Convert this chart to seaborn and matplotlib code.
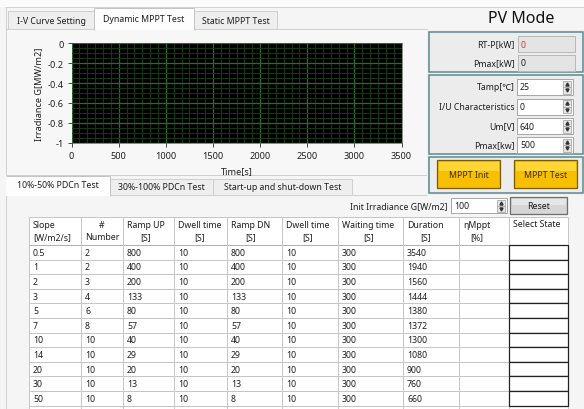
import matplotlib
matplotlib.use("Agg")
import matplotlib.pyplot as plt
from matplotlib.patches import Rectangle
from matplotlib.ticker import AutoMinorLocator
import pandas as pd
import seaborn as sns

# ---------------- data ----------------
time_s = []            # no irradiance curve drawn yet
irradiance = []
x_ticks = [0, 500, 1000, 1500, 2000, 2500, 3000, 3500]
y_ticks = [0, -0.2, -0.4, -0.6, -0.8, -1]
y_tick_labels = ["0", "-0.2", "-0.4", "-0.6", "-0.8", "-1"]

main_tabs = ["I-V Curve Setting", "Dynamic MPPT Test", "Static MPPT Test"]
sub_tabs = ["10%-50% PDCn Test", "30%-100% PDCn Test", "Start-up and shut-down Test"]
status_labels = ["RT-P[kW]", "Pmax[kW]"]
status_values = ["0", "0"]
param_labels = ["Tamp[℃]", "I/U Characteristics", "Um[V]", "Pmax[kw]"]
param_values = ["25", "0", "640", "500"]
buttons = ["MPPT Init", "MPPT Test"]
init_label = "Init Irradiance G[W/m2]"
init_value = "100"

headers = ["Slope\n[W/m2/s]", "#\nNumber", "Ramp UP\n[S]", "Dwell time\n[S]",
           "Ramp DN\n[S]", "Dwell time\n[S]", "Waiting time\n[S]", "Duration\n[S]",
           "ηMppt\n[%]", "Select State"]
slope = ["0.5", "1", "2", "3", "5", "7", "10", "14", "20", "30", "50"]
number = ["2", "2", "3", "4", "6", "8", "10", "10", "10", "10", "10"]
ramp_up = ["800", "400", "200", "133", "80", "57", "40", "29", "20", "13", "8"]
dwell_up = ["10", "10", "10", "10", "10", "10", "10", "10", "10", "10", "10"]
ramp_dn = ["800", "400", "200", "133", "80", "57", "40", "29", "20", "13", "8"]
dwell_dn = ["10", "10", "10", "10", "10", "10", "10", "10", "10", "10", "10"]
waiting = ["300", "300", "300", "300", "300", "300", "300", "300", "300", "300", "300"]
duration = ["3540", "1940", "1560", "1444", "1380", "1372", "1300", "1080", "900", "760", "660"]
eta_mppt = ["", "", "", "", "", "", "", "", "", "", ""]
select_state = ["", "", "", "", "", "", "", "", "", "", ""]

# ---------------- style ----------------
sns.set_theme(style="white")
FONT = ["Noto Sans", "DejaVu Sans"]
plt.rcParams["font.family"] = FONT
FS = 6.3

W, H = 584, 410
fig = plt.figure(figsize=(W / 100, H / 100), dpi=100)
fig.patch.set_facecolor("#f5f5f5")

ui = fig.add_axes([0, 0, 1, 1], zorder=0)
ui.set_xlim(0, W)
ui.set_ylim(H, 0)
ui.axis("off")


def rect(x0, y0, x1, y1, fc="none", ec="none", lw=0.72, z=1):
    ui.add_patch(Rectangle((x0, y0), x1 - x0, y1 - y0, facecolor=fc,
                           edgecolor=ec, linewidth=lw, zorder=z))


def line(x0, y0, x1, y1, color="#c8c8c8", lw=0.72, z=2):
    ui.plot([x0, x1], [y0, y1], color=color, lw=lw, solid_capstyle="butt", zorder=z)


def txt(x, y, s, ha="left", size=FS, color="#1e1e1e", weight="normal", z=5, **kw):
    ui.text(x, y, s, ha=ha, va="center", fontsize=size, color=color,
            fontweight=weight, zorder=z, **kw)


def spinner(x0, y0, x1, y1):
    rect(x0, y0, x1, y1, fc="#e6e6e6", ec="#9a9a9a", lw=0.5, z=4)
    ym = (y0 + y1) / 2
    line(x0, ym, x1, ym, color="#9a9a9a", lw=0.5, z=4)
    xc = (x0 + x1) / 2
    ui.plot([xc], [(y0 + ym) / 2], marker="^", ms=2.2, color="#333333", zorder=5)
    ui.plot([xc], [(ym + y1) / 2], marker="v", ms=2.2, color="#333333", zorder=5)


# top strip / outer frame
rect(0, 0, W, 8, fc="#fbfbfb")
line(5, 7.5, W, 7.5, color="#d2d2d2")
line(5.5, 7.5, 5.5, H, color="#d2d2d2")

# ---------------- main tab control ----------------
rect(6, 30, 427, 176, fc="#f7f7f7", ec="#cfcfcf", z=1)
tab_x = [8, 94, 194, 277]
for i, name in enumerate(main_tabs):
    if i == 1:
        rect(tab_x[i], 9, tab_x[i + 1], 31, fc="#fdfdfd", ec="none", z=2)
        line(tab_x[i], 9, tab_x[i], 30.5, color="#c4c4c4", z=3)
        line(tab_x[i + 1], 9, tab_x[i + 1], 30.5, color="#c4c4c4", z=3)
        line(tab_x[i], 9, tab_x[i + 1], 9, color="#c4c4c4", z=3)
    else:
        rect(tab_x[i], 12, tab_x[i + 1], 30, fc="#eeeeee", ec="#cfcfcf", z=1.5)
    txt((tab_x[i] + tab_x[i + 1]) / 2, 21 if i != 1 else 19.5, name, ha="center")

txt(521, 19, "PV Mode", ha="center", size=11.5, weight="bold", color="#111111")

# ---------------- right panel ----------------
BOX_EC = "#5b8a8e"
rect(427, 31, W, 196, fc="#efefef", ec="none", z=1)
rect(429, 33, 583, 73, fc="#ececec", ec=BOX_EC, lw=1.1, z=2)
rect(429, 76, 583, 155, fc="#ececec", ec=BOX_EC, lw=1.1, z=2)
rect(429, 158, 583, 194, fc="#ececec", ec=BOX_EC, lw=1.1, z=2)

status_y = [45, 64]
for lab, val, yc, col in zip(status_labels, status_values, status_y, ["#e0302f", "#1e1e1e"]):
    txt(515, yc, lab, ha="right")
    rect(518, yc - 8, 575, yc + 8, fc="#e4e4e4", ec="#b8b8b8", z=3)
    txt(521, yc, val, color=col)

param_y = [88, 107.5, 127, 146]
for lab, val, yc in zip(param_labels, param_values, param_y):
    txt(515, yc, lab, ha="right")
    y0, y1 = yc - 8, min(yc + 8, 154)
    rect(517, y0, 573, y1, fc="#ffffff", ec="#a8a8a8", z=3)
    spinner(563, y0 + 1.5, 571, y1 - 1.5)
    txt(520, yc, val)

btn_x = [(437, 500), (514, 577)]
for (bx0, bx1), name in zip(btn_x, buttons):
    rect(bx0, 161, bx1, 189, fc="#f7bf00", ec="#7a5a00", lw=0.9, z=3)
    rect(bx0 + 1.5, 162.5, bx1 - 1.5, 172, fc="#ffd633", ec="none", z=3.5)
    txt((bx0 + bx1) / 2, 175.5, name, ha="center", color="#3a2a00")

# ---------------- sub tab control ----------------
rect(6, 196, 427, H, fc="#f5f5f5", ec="none", z=0.5)
line(6, 196, 427, 196, color="#cfcfcf", z=1.6)
sub_x = [6, 110, 213, 352]
for i, name in enumerate(sub_tabs):
    if i == 0:
        rect(sub_x[i], 177, sub_x[i + 1], 197, fc="#fdfdfd", ec="none", z=2)
        line(sub_x[i], 177, sub_x[i + 1], 177, color="#c4c4c4", z=3)
        line(sub_x[i + 1], 177, sub_x[i + 1], 196.5, color="#c4c4c4", z=3)
    else:
        rect(sub_x[i], 180, sub_x[i + 1], 196, fc="#eeeeee", ec="#cfcfcf", z=1.5)
    txt((sub_x[i] + sub_x[i + 1]) / 2, 186 if i == 0 else 188, name, ha="center")

# init irradiance row
txt(448, 206.5, init_label, ha="right")
rect(451, 199, 507, 214, fc="#ffffff", ec="#a8a8a8", z=3)
spinner(497, 200.5, 505, 212.5)
txt(454, 206.5, init_value)
rect(510, 198, 567, 215, fc="#d6d6d6", ec="#6e6e6e", lw=0.9, z=3)
rect(511.5, 199.5, 565.5, 206, fc="#e6e6e6", ec="none", z=3.5)
txt(538.5, 206.5, "Reset", ha="center")

# ---------------- table ----------------
col_x = [29, 81, 123, 174, 227, 282, 338, 403, 459, 509, 568]
head_top, head_bot = 218, 246
row_h = 14.6
columns = [slope, number, ramp_up, dwell_up, ramp_dn, dwell_dn, waiting,
           duration, eta_mppt, select_state]
n_rows = len(slope)

rect(col_x[0], head_top, col_x[-1], H + 2, fc="#ffffff", ec="none", z=1)
GRID = "#c6c6c6"
line(col_x[0], head_top, col_x[-1], head_top, color=GRID)
line(col_x[0], head_bot, col_x[-1], head_bot, color="#b0b0b0")
for k in range(n_rows + 1):
    yy = head_bot + (k + 1) * row_h
    line(col_x[0], yy, col_x[-1], yy, color=GRID)
for xx in col_x:
    line(xx, head_top, xx, H, color=GRID)

for j, head in enumerate(headers):
    x0 = col_x[j]
    if j == 0:
        txt(x0 + 4, 231.5, head, ha="left", multialignment="left", linespacing=1.45)
    elif j == 1:
        txt((col_x[j] + col_x[j + 1]) / 2, 231.5, head, ha="center",
            multialignment="center", linespacing=1.45)
    elif j == len(headers) - 1:
        txt(x0 + 4, 225, head, ha="left")
    else:
        txt(x0 + 4, 231.5, head, ha="left", multialignment="center", linespacing=1.45)

for j, col in enumerate(columns):
    for i, val in enumerate(col):
        yc = head_bot + (i + 0.5) * row_h
        if val:
            txt(col_x[j] + 4, yc, val)

# select-state cells (control boxes with dark border)
for i in range(len(select_state)):
    y0 = head_bot + i * row_h
    rect(col_x[9], y0, col_x[10], y0 + row_h, fc="#ffffff", ec="#222222", lw=0.9, z=3)

# ---------------- irradiance chart (seaborn) ----------------
L, R, T, B = 71.5, 401.5, 44, 144
ax = fig.add_axes([L / W, 1 - B / H, (R - L) / W, (B - T) / H], zorder=2)
df = pd.DataFrame({"Time[s]": pd.Series(time_s, dtype=float),
                   "G": pd.Series(irradiance, dtype=float)})
sns.lineplot(data=df, x="Time[s]", y="G", ax=ax, color="#ffffff")
ax.set_facecolor("black")
ax.set_xlim(0, 3500)
ax.set_ylim(-1, 0)
ax.set_xticks(x_ticks)
ax.set_xticklabels([str(v) for v in x_ticks])
ax.set_yticks(y_ticks)
ax.set_yticklabels(y_tick_labels)
ax.xaxis.set_minor_locator(AutoMinorLocator(6))
ax.yaxis.set_minor_locator(AutoMinorLocator(4))
ax.grid(which="minor", color="#173817", lw=0.7)
ax.grid(which="major", color="#2a6a2d", lw=0.9)
ax.set_axisbelow(False)
ax.tick_params(which="major", direction="out", length=3, width=0.7, color="#444444",
               labelsize=FS + 0.3, labelcolor="#1e1e1e", pad=2.5, left=True, bottom=True)
ax.tick_params(which="minor", length=0)
for s in ax.spines.values():
    s.set_color("#777777")
    s.set_linewidth(0.6)
ax.set_xlabel("Time[s]", fontsize=FS + 0.3, color="#1e1e1e", labelpad=5)
ax.set_ylabel("Irradiance G[MW/m2]", fontsize=FS + 0.3, color="#1e1e1e", labelpad=3)

fig.savefig("out.png", dpi=100, facecolor=fig.get_facecolor())
